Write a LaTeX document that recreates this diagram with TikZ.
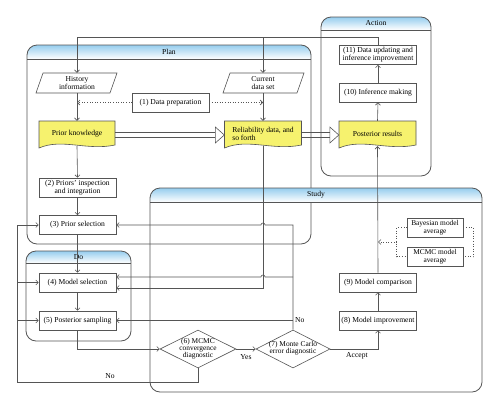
\documentclass[tikz,border=0pt]{standalone}
\usepackage{fontspec}
\setmainfont{Liberation Serif}
\usetikzlibrary{arrows.meta,calc,shapes.geometric}
\definecolor{lineg}{RGB}{85,85,85}
\definecolor{hdrblue}{RGB}{150,205,238}
\definecolor{docyel}{RGB}{246,242,110}
\tikzset{
 panelframe/.style={draw=lineg, line width=0.8pt, rounded corners=10pt},
 panelline/.style={draw=lineg, line width=0.6pt},
 paneltitle/.style={inner sep=0pt},
 box/.style={draw=lineg, line width=0.6pt, fill=white, minimum width=77pt, minimum height=19pt, inner sep=1pt, align=center},
 dia/.style={diamond, draw=lineg, line width=0.6pt, fill=white, minimum width=76pt, minimum height=38pt, inner sep=0pt},
 conn/.style={draw=lineg, line width=0.6pt},
 arr/.style={conn, -{Straight Barb[length=2.5pt,width=5pt]}},
 darr/.style={conn, dotted, -{Straight Barb[length=2.5pt,width=5pt]}},
 dotline/.style={conn, dotted},
 docstyle/.style={draw=lineg, line width=0.6pt, fill=docyel},
 plain/.style={inner sep=0pt, align=center},
}
\newcommand\mypanel[7]{%
 \begin{scope}
 \clip[rounded corners=10pt] (#1,#2) rectangle (#3,#4);
 \shade[top color=hdrblue,bottom color=white] (#1,#2) rectangle (#3,#5);
 \end{scope}
 \draw[panelframe] (#1,#2) rectangle (#3,#4);
 \draw[panelline] (#1,#5) -- (#3,#5);
 \node[paneltitle] (#7) at ({(#1+#3)/2},{(#2+#5)/2}) {#6};
}
\newcommand\mydoc[4]{%
 \filldraw[docstyle] (#1,#2) -- (#3,#2) -- (#3,{#4-1}) .. controls ({(#1+#3)/2+10},{#4+5}) and ({(#1+#3)/2-15},{#4-8}) .. (#1,{#4+2}) -- cycle;}
\newcommand\fatarrow[2]{%
 \draw[conn] ($(#1.east)+(0,-1)$) -- ($(#2.west)+(-9,-1)$) ($(#1.east)+(0,4)$) -- ($(#2.west)+(-9,4)$);
 \draw[conn] ($(#2.west)+(-9,-6.5)$) -- ($(#2.west)+(0,1.5)$) -- ($(#2.west)+(-9,9.5)$) -- cycle;}
\begin{document}
\begin{tikzpicture}[x=1pt,y=-1pt,font=\fontsize{7.6}{8.2}\selectfont]
\useasboundingbox[fill=white] (0,0) rectangle (500,410);
% panels
\mypanel{27}{45}{311}{244}{59}{Plan}{tplan}
\mypanel{321}{17}{431}{176}{30}{Action}{taction}
\mypanel{26}{251}{131}{341}{263}{Do}{tdo}
\mypanel{150}{188}{482}{392}{202}{Study}{tstudy}
% parallelograms
\draw[conn, fill=white] (43,73) -- (117,73) -- (110,93) -- (36,93) -- cycle;
\node[plain, minimum width=74pt, minimum height=20pt] (hist) at (77,83) {History\\information};
\draw[conn, fill=white] (230,73) -- (304,73) -- (297,93) -- (223,93) -- cycle;
\node[plain, minimum width=74pt, minimum height=20pt] (cur) at (263,83) {Current\\data set};
% documents
\mydoc{39}{121}{115}{146}
\node[plain, minimum width=76pt, minimum height=25pt] (pk) at (77,133.5) {Prior knowledge};
\mydoc{224.5}{121}{301.5}{146}
\node[plain, align=left, minimum width=77pt, minimum height=25pt] (rel) at (263,133.5) {Reliability data, and\\so forth};
\mydoc{339}{121}{416}{146}
\node[plain, minimum width=77pt, minimum height=25pt] (post) at (377.5,133.5) {Posterior results};
% boxes
\node[box] (n11) at (378,55) {(11) Data updating and\\inference improvement};
\node[box] (n10) at (378,92.5) {(10) Inference making};
\node[box] (dp) at (170.5,102.5) {(1) Data preparation};
\node[box] (n2) at (77.5,187.5) {(2) Priors' inspection\\and integration};
\node[box] (n3) at (77.5,225) {(3) Prior selection};
\node[box] (n4) at (77.5,282.5) {(4) Model selection};
\node[box] (n5) at (77.5,320.5) {(5) Posterior sampling};
\node[box] (n8) at (378,320.5) {(8) Model improvement};
\node[box] (n9) at (378,282.5) {(9) Model comparison};
\node[box, minimum width=56pt, font=\fontsize{7.4}{7.8}\selectfont] (bay) at (435,227.5) {Bayesian model\\average};
\node[box, minimum width=56pt, font=\fontsize{7.4}{7.8}\selectfont] (mc) at (435,256.5) {MCMC model\\average};
\node[dia, minimum width=76pt] (d6) at (198,349) {};
\node[plain, font=\fontsize{7.4}{7}\selectfont] (d6t) at (198,349) {(6) MCMC\\convergence\\diagnostic};
\node[dia, minimum width=74pt] (d7) at (293,349) {};
\node[plain, font=\fontsize{7.4}{7.4}\selectfont] (d7t) at (293,348) {(7) Monte Carlo\\error diagnostic};
% coordinates
\coordinate (ttop) at (0,37);
\coordinate (nl) at (17,382);
\coordinate (n4up) at ($(n4.east)+(0,-5.5)$);
\coordinate (n4lo) at ($(n4.east)+(0,5.5)$);
\coordinate (bm) at ($(bay.west)!0.5!(mc.west)+(-10,0)$);
% connectors
\draw[arr] (n11.north) -- (n11.north |- ttop) -- (hist.north |- ttop) -- (hist.north);
\draw[arr] (cur.north |- ttop) -- (cur.north);
\draw[arr] (hist.south) -- (pk.north);
\draw[arr] (cur.south) -- (rel.north);
\draw[darr] (dp.west) -- (dp.west -| hist.south);
\draw[darr] (dp.east) -- (dp.east -| cur.south);
\fatarrow{pk}{rel}
\fatarrow{rel}{post}
\draw[arr] (post.north) -- (n10.south);
\draw[arr] (n10.north) -- (n11.south);
\draw[arr] (pk.south) -- (n2.north);
\draw[arr] (n2.south) -- (n3.north);
\draw[arr] (n3.south) -- (n4.north);
\draw[arr] (n4.south) -- (n5.north);
\draw[arr] (n5.south) |- (d6.west);
\draw[arr] (d6.east) -- node[plain, below=5pt] (yes) {Yes} (d7.west);
\draw[arr] (d6.south) |- (nl) |- (n3.west);
\draw[arr] (n4.west -| nl) -- (n4.west);
\draw[arr] (n5.west -| nl) -- (n5.west);
\node[plain] (no1) at (110,376) {No};
\draw[arr] (d7.north) -- (d7.north |- n3.east) -- ($(cur.south |- n3.east)+(2,0)$) arc[start angle=0,end angle=-180,radius=2] -- (n3.east);
\draw[arr] (d7.north |- n4up) -- ($(cur.south |- n4up)+(2,0)$) arc[start angle=0,end angle=-180,radius=2] -- (n4up);
\draw[arr] (d7.north |- n5.east) -- (n5.east);
\node[plain, anchor=west] (no2) at (295,320.5) {No};
\draw[arr] (rel.south) |- (n4lo);
\draw[arr] (d7.east) -| (n8.south);
\node[plain] (acc) at (357,356) {Accept};
\draw[arr] (n8.north) -- (n9.south);
\draw[arr] (n9.north) -- (post.south);
\draw[dotline] (bay.west) -- ++(-10,0) |- (mc.west);
\draw[dotline] (bay.east) -- ++(10,0) |- (mc.east);
\draw[darr] (bm) -- (bm -| n9.north);
\end{tikzpicture}
\end{document}
